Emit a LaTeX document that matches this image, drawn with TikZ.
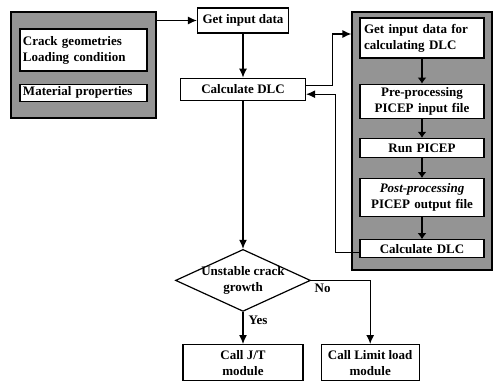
\documentclass[tikz,border=0pt]{standalone}
\usepackage{fontspec}
\setmainfont{Liberation Serif}
\usepackage{tikz}
\usetikzlibrary{shapes,shapes.geometric,arrows.meta,positioning,fit,backgrounds}
\tikzstyle{box} = [rectangle, draw=black, line width=1.2pt, fill=white, text=black, align=center, font=\bfseries\fontsize{13}{16}\selectfont, inner sep=2pt, minimum height=19pt]
\tikzstyle{inbox} = [box, text width=116pt, inner xsep=4pt]
\tikzstyle{group} = [rectangle, draw=black, line width=2pt, fill=black!42]
\tikzstyle{decision} = [diamond, draw=black, line width=1.2pt, fill=white, align=center, font=\bfseries\fontsize{13}{16}\selectfont, aspect=2.18, minimum width=135pt, minimum height=62pt, inner sep=0pt]
\tikzstyle{textonly} = [draw=none, fill=none, font=\bfseries\fontsize{13}{16}\selectfont]
\tikzstyle{flow} = [draw, line width=1.2pt, -{Latex[length=9pt,width=8pt]}]
\tikzstyle{inflow} = [draw, line width=2.5pt, -{Latex[length=6pt,width=9pt]}]
\begin{document}
\begin{tikzpicture}
\useasboundingbox (0,0) rectangle (496pt,-383pt);

% main column =============================
\node[box, minimum width=91pt, minimum height=25pt] (getin) at (243pt,-20.5pt) {Get input data};
\node[box, below=44pt of getin, minimum width=125pt, minimum height=22pt] (calc) {Calculate DLC};
\node[decision, below=148pt of calc] (unstable) {\makebox[56pt]{Unstable crack}\\growth};
\node[box, below=32pt of unstable, minimum width=120pt, minimum height=36pt] (jt) {Call J/T\\module};
\node[box, right=17pt of jt, minimum width=98pt, minimum height=36pt] (limit) {Call Limit load\\module};

% input data =============================
\node[box, text width=121pt, inner xsep=3pt, align=left, minimum height=42pt] (geom) at (83.5pt,-50pt) {Crack geometries\\Loading condition};
\node[box, text width=121pt, inner xsep=3pt, align=left, below=12pt of geom, minimum height=17pt] (mat) {Material properties};

% DLC loop =============================
\node[inbox, align=left, minimum height=40pt] (in1) at (422pt,-38pt) {Get input data for\\calculating DLC};
\node[inbox, below=25pt of in1, minimum height=34pt] (in2) {Pre-processing\\PICEP input file};
\node[inbox, below=19pt of in2, minimum height=19pt] (in3) {Run PICEP};
\node[inbox, below=20pt of in3, minimum height=38pt] (in4) {\textit{Post-processing}\\PICEP output file};
\node[inbox, below=22pt of in4, minimum height=18pt] (in5) {Calculate DLC};

\begin{scope}[on background layer]
\node[group, fit=(geom)(mat), inner xsep=8.5pt, inner ysep=16.5pt] (data) {};
\node[group, fit=(in1)(in5), inner xsep=7pt, inner ysep=8.5pt, yshift=-3.5pt] (proc) {};
\end{scope}

\path (in1.west -| proc.west) ++(0,4pt) coordinate (feed);

% edges
\path[flow] (data.east |- getin.west) -- (getin.west);
\path[flow] (getin) -- (calc);
\path[flow] ([yshift=4pt]calc.east) -- ++(26pt,0) |- (feed);
\path[flow] ([yshift=-4pt]in5.west) -| ([xshift=29pt,yshift=-5pt]calc.east) -- ([yshift=-5pt]calc.east);
\path[inflow] (in1) -- (in2);
\path[inflow] (in2) -- (in3);
\path[inflow] (in3) -- (in4);
\path[inflow] (in4) -- (in5);
\path[flow] (calc) -- (unstable);
\path[flow] (unstable) -- (jt) node[textonly, pos=0.25, anchor=west, inner sep=5pt] {Yes};
\path[flow] (unstable.east) -| (limit.north) node[textonly, pos=0, anchor=north west, inner sep=3pt] {No};

\end{tikzpicture}
\end{document}
